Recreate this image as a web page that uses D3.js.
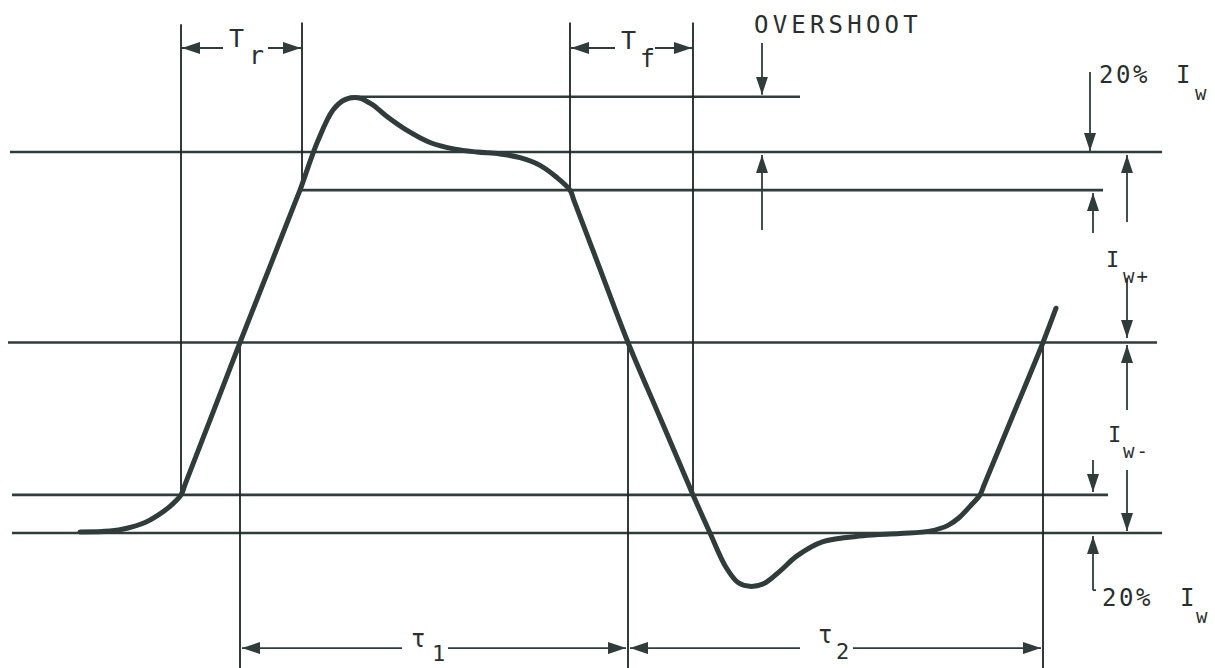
<!DOCTYPE html>
<html><head><meta charset="utf-8">
<script src="https://cdn.jsdelivr.net/npm/d3@7"></script>
<style>html,body{margin:0;padding:0;background:#fff;}svg{display:block;}</style>
</head><body>
<svg id="c" width="1215" height="668"></svg>
<script>
// time in ns-like units, current in units of Iw
const waveT = [8.0,11.0,12.7,14.5,15.7,17.0,18.1,18.5,21.0,24.0,27.0,29.6,30.0,31.8,33.3,34.5,35.8,37.2,38.6,40.5,43.0,45.5,47.7,50.0,52.0,54.0,55.6,57.0,57.4,59.9,62.8,66.0,68.9,69.3,71.0,72.6,73.8,75.0,76.4,78.0,79.7,82.3,86.3,90.0,93.0,94.8,95.9,97.0,98.0,98.4,101.2,104.3,105.6];
const waveI = [-0.995,-0.99,-0.975,-0.945,-0.91,-0.86,-0.8,-0.746,-0.407,0,0.4,0.747,0.8,1.06,1.22,1.275,1.285,1.25,1.19,1.12,1.05,1.015,1.0,0.99,0.97,0.93,0.87,0.8,0.745,0.4,0,-0.394,-0.751,-0.8,-1.0,-1.18,-1.26,-1.28,-1.265,-1.2,-1.12,-1.045,-1.015,-1.003,-0.99,-0.96,-0.92,-0.86,-0.8,-0.749,-0.394,0,0.18];

const levels   = [1.29, 1.0, 0.8, 0.0, -0.8, -1.0];
const levelT0  = [35.0, 1.0, 30.2, 0.8, 1.2, 1.2];
const levelT1  = [80.0, 116.2, 110.3, 115.7, 110.8, 116.2];

const markerT  = [18.1, 30.2, 24.0, 57.0, 69.3, 62.8, 104.3];
const markerI0 = [-0.8, 0.8, 0.0, 0.8, -0.8, 0.0, 0.0];
const markerI1 = [1.67, 1.68, -1.75, 1.68, 1.68, -1.75, -1.75];

// arrows: from (t0,i0) to tip (t1,i1)
const arrowT0 = [22.3, 26.8, 61.5, 65.5, 76.2, 76.2, 109.0, 109.3, 112.7, 112.7, 112.7, 109.3, 112.7, 109.3, 40.2, 44.8, 80.0, 85.3];
const arrowI0 = [1.546,1.546,1.546,1.546,1.572,0.59, 1.42, 0.575, 0.633, 0.339,-0.354,-0.617,-0.669,-1.30,-1.604,-1.604,-1.604,-1.604];
const arrowT1 = [18.2, 30.1, 57.1, 69.2, 76.2, 76.2, 109.0, 109.3, 112.7, 112.7, 112.7, 109.3, 112.7, 109.3, 24.2, 62.6, 63.0, 104.1];
const arrowI1 = [1.546,1.546,1.546,1.546,1.30, 0.984,1.005, 0.785, 0.984, 0.024,-0.013,-0.785,-0.99,-1.016,-1.604,-1.604,-1.604,-1.604];

const labelText = ["T","r","T","f","OVERSHOOT","20%","I","w","I","w+","I","w-","20%","I","w","τ","1","τ","2"];
</script>
<script>
const svg = d3.select("#c");
const x = d3.scaleLinear().domain([0,121.5]).range([0,1215]);
const y = d3.scaleLinear().domain([-1,1]).range([533,152]);
const ink = "#2f3c3a";

svg.append("defs").append("marker")
  .attr("id","ah").attr("viewBox","0 0 18 12").attr("refX",18).attr("refY",6)
  .attr("markerWidth",18).attr("markerHeight",12).attr("markerUnits","userSpaceOnUse")
  .attr("orient","auto")
  .append("path").attr("d","M0,0L18,6L0,12Z").attr("fill",ink);

// level lines
svg.append("g").selectAll("line").data(levels).join("line")
  .attr("x1",(d,i)=>x(levelT0[i])).attr("x2",(d,i)=>x(levelT1[i]))
  .attr("y1",d=>y(d)).attr("y2",d=>y(d))
  .attr("stroke",ink).attr("stroke-width",2.6);

// vertical marker lines
svg.append("g").selectAll("line").data(markerT).join("line")
  .attr("x1",d=>x(d)).attr("x2",d=>x(d))
  .attr("y1",(d,i)=>y(markerI0[i])).attr("y2",(d,i)=>y(markerI1[i]))
  .attr("stroke","#1e2423").attr("stroke-width",1.8);

// arrows
svg.append("g").selectAll("line").data(arrowT0).join("line")
  .attr("x1",d=>x(d)).attr("y1",(d,i)=>y(arrowI0[i]))
  .attr("x2",(d,i)=>x(arrowT1[i])).attr("y2",(d,i)=>y(arrowI1[i]))
  .attr("stroke",ink).attr("stroke-width",1.8).attr("marker-end","url(#ah)");
// small hook on lower 20% arrow
svg.append("line").attr("x1",x(109.3)).attr("x2",x(109.6)).attr("y1",y(-1.30)).attr("y2",y(-1.30))
  .attr("stroke",ink).attr("stroke-width",1.8);

// waveform
const pts = waveT.map((t,i)=>[t,waveI[i]]);
svg.append("path").datum(pts)
  .attr("d", d3.line().x(d=>x(d[0])).y(d=>y(d[1])).curve(d3.curveCatmullRom.alpha(0.5)))
  .attr("fill","none").attr("stroke",ink).attr("stroke-width",5)
  .attr("stroke-linecap","round").attr("stroke-linejoin","round");

// labels (layout)
const labelPos = [
  [229,47,25,0],[249,64,25,0],[621,49,25,0],[640,67,25,0],
  [754,33,24,4.2],
  [1099,83,24,2.5],[1176,83,24,0],[1195,100,19,0],
  [1106,267,22,0],[1123,283,19,2],
  [1108,442,22,0],[1123,458,19,2],
  [1102,606,24,2.5],[1180,606,24,0],[1196,623,19,0],
  [411,647,24,0],[432,661,22,0],[818,643,24,0],[836,659,22,0]
];
svg.append("g").selectAll("text").data(labelText).join("text")
  .attr("x",(d,i)=>labelPos[i][0]).attr("y",(d,i)=>labelPos[i][1])
  .attr("font-size",(d,i)=>labelPos[i][2]).attr("letter-spacing",(d,i)=>labelPos[i][3])
  .attr("font-family","'DejaVu Sans Mono', monospace")
  .attr("fill","#2a2f2e").text(d=>d);
</script>
</body></html>
